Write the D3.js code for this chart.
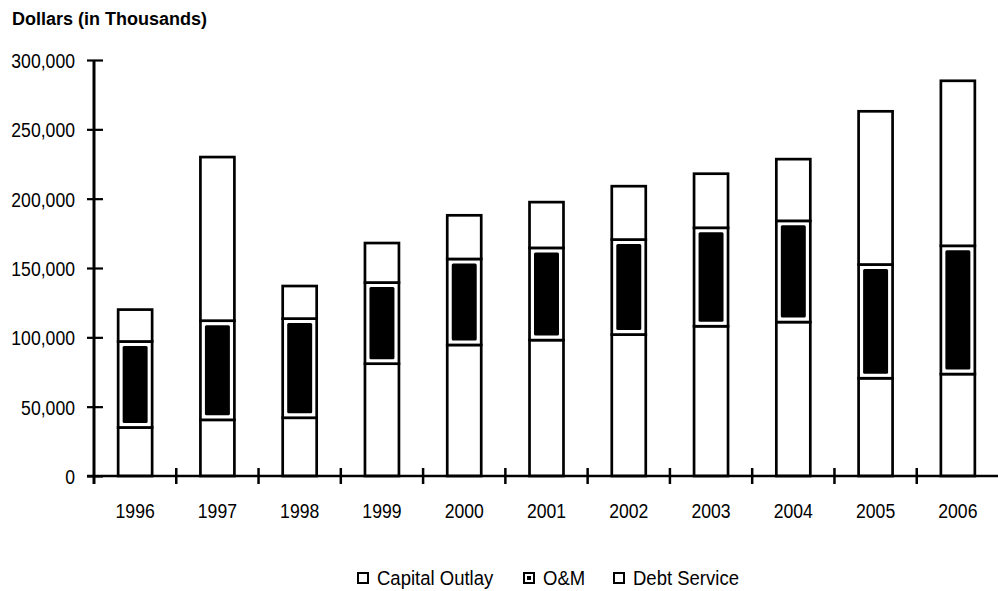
<!DOCTYPE html>
<html><head><meta charset="utf-8">
<script src="https://cdn.jsdelivr.net/npm/d3@7"></script>
<style>body{margin:0;background:#fff}svg{display:block}</style>
</head><body>
<svg id="c" width="998" height="591"></svg>
<script>
const years = ["1996","1997","1998","1999","2000","2001","2002","2003","2004","2005","2006"];
const capitalOutlay = [35000, 40500, 42000, 81000, 94500, 98000, 102000, 108000, 111000, 70500, 73500];
const oAndM        = [62000, 71500, 71500, 58500, 62000, 66500, 68500, 71000, 73000, 82000, 92500];
const debtService  = [23000, 118000, 23500, 28500, 31500, 33000, 38500, 39000, 44500, 110500, 119000];
const seriesKeys = ["Capital Outlay", "O&M", "Debt Service"];
const yTickValues = [0, 50000, 100000, 150000, 200000, 250000, 300000];
const yTitle = "Dollars (in Thousands)";

const table = years.map((yr, i) => ({
  year: yr,
  "Capital Outlay": capitalOutlay[i],
  "O&M": oAndM[i],
  "Debt Service": debtService[i]
}));

const svg = d3.select("#c");
const font = "'Liberation Sans',Arial,Helvetica,sans-serif";
const sx = 0.84; // horizontal condensing of tick labels

const pLeft = 94, pRight = 999, pTop = 60, pBottom = 476;
const pad = 0.587;
const x = d3.scaleBand().domain(years).range([pLeft, pRight]).paddingInner(pad).paddingOuter(pad / 2);
const y = d3.scaleLinear().domain([0, 300000]).range([pBottom, pTop]);
const bw = x.bandwidth();
const step = x.step();

// Title
svg.append("text").attr("x", 12).attr("y", 25)
  .attr("font-family", font).attr("font-weight", "bold").attr("font-size", 18)
  .attr("fill", "#000").text(yTitle);

// Bars
const stacked = d3.stack().keys(seriesKeys)(table);
const g = svg.append("g");
stacked.forEach(layer => {
  const key = layer.key;
  layer.forEach(d => {
    const x0 = x(d.data.year);
    const yTop = y(d[1]), yBot = y(d[0]);
    g.append("rect").attr("x", x0).attr("y", yTop).attr("width", bw).attr("height", yBot - yTop)
      .attr("fill", "#fff").attr("stroke", "#000").attr("stroke-width", 2.7);
    if (key === "O&M") {
      const ins = 4.5;
      g.append("rect").attr("x", x0 + ins).attr("y", yTop + ins)
        .attr("width", bw - 2 * ins).attr("height", yBot - yTop - 2 * ins)
        .attr("rx", 1.5).attr("fill", "#000");
    }
  });
});

// Y axis
const yAxis = d3.axisLeft(y).tickValues(yTickValues).tickSize(0).tickPadding(0)
  .tickFormat(d3.format(","));
const ya = svg.append("g").attr("transform", `translate(${pLeft},0)`).call(yAxis);
ya.select(".domain").remove();
ya.selectAll(".tick text").attr("x", -19 / sx).attr("dy", "0.35em")
  .attr("transform", `scale(${sx},1)`)
  .attr("font-family", font).attr("font-size", 21).attr("fill", "#000");
ya.selectAll(".tick").append("line").attr("x1", -7).attr("x2", 9)
  .attr("stroke", "#000").attr("stroke-width", 2.2);
svg.append("line").attr("x1", pLeft).attr("x2", pLeft).attr("y1", pTop).attr("y2", pBottom + 8)
  .attr("stroke", "#000").attr("stroke-width", 3);

// X axis
const xAxis = d3.axisBottom(x).tickSize(0).tickPadding(0);
const xa = svg.append("g").attr("transform", `translate(0,${pBottom})`).call(xAxis);
xa.select(".domain").remove();
xa.selectAll(".tick text").attr("y", 42).attr("dy", 0)
  .attr("transform", `scale(${sx},1)`)
  .attr("font-family", font).attr("font-size", 21).attr("fill", "#000");
svg.append("line").attr("x1", pLeft - 7).attr("x2", 998).attr("y1", pBottom).attr("y2", pBottom)
  .attr("stroke", "#000").attr("stroke-width", 2.5);
years.slice(0, -1).forEach(yr => {
  const bx = x(yr) + bw / 2 + step / 2;
  svg.append("line").attr("x1", bx).attr("x2", bx).attr("y1", pBottom - 8).attr("y2", pBottom + 8)
    .attr("stroke", "#000").attr("stroke-width", 2.5);
});

// Legend
const legendX = [357, 523, 613];
const lg = svg.append("g");
seriesKeys.forEach((k, i) => {
  const lx = legendX[i], ly = 572;
  lg.append("rect").attr("x", lx + 1).attr("y", ly + 1).attr("width", 10).attr("height", 10)
    .attr("fill", "#fff").attr("stroke", "#000").attr("stroke-width", 2);
  if (k === "O&M") {
    lg.append("rect").attr("x", lx + 4).attr("y", ly + 4).attr("width", 4).attr("height", 4).attr("fill", "#000");
  }
  lg.append("text").attr("transform", `translate(${lx + 20},${ly + 12.5}) scale(0.95,1)`)
    .attr("font-family", font).attr("font-size", 19.5).attr("fill", "#000").text(k);
});
</script>
</body></html>
